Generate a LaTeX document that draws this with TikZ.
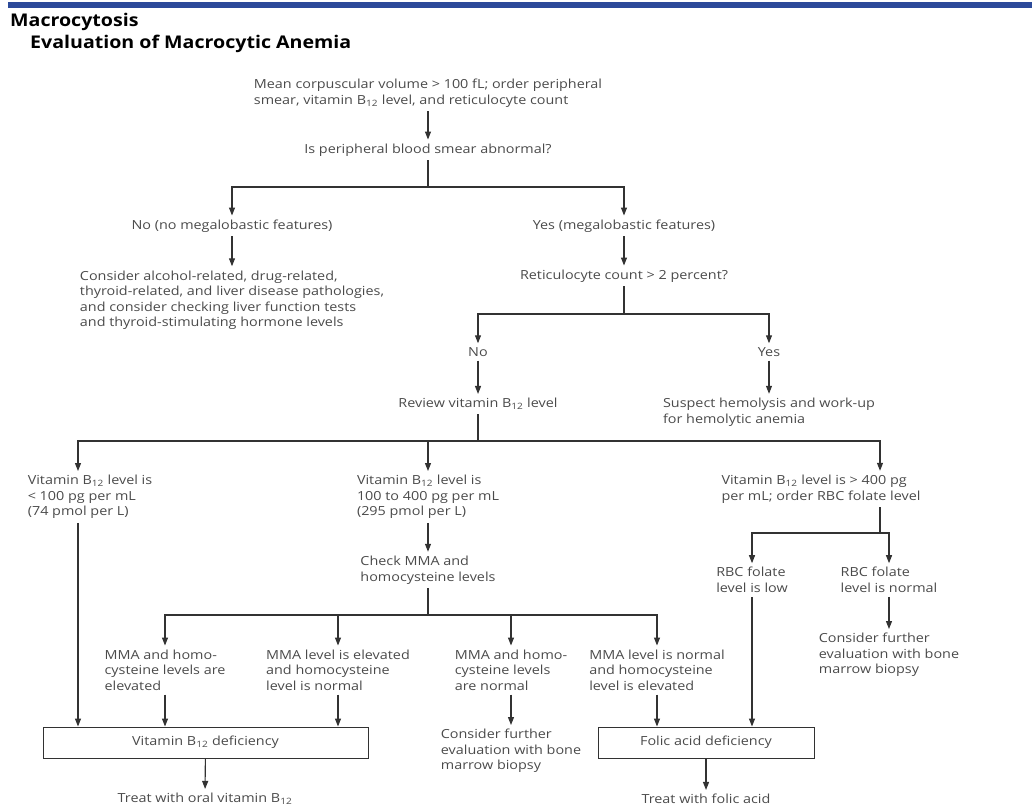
\documentclass[tikz,border=0pt]{standalone}
\usepackage{fontspec}
\setmainfont[FakeStretch=1.15]{Open Sans}
\newfontfamily\titlefont[FakeStretch=1.12]{Open Sans}
\usetikzlibrary{arrows.meta}
\definecolor{barblue}{RGB}{44,74,154}
\definecolor{txtgray}{RGB}{74,74,74}
\definecolor{linegray}{RGB}{50,50,50}
\tikzset{
  txt/.style={font=\fontsize{12.5}{15.5}\selectfont, text=txtgray, inner sep=4pt, align=left},
  box/.style={txt, draw=linegray, line width=1pt, minimum height=31pt, align=center},
  conn/.style={draw=linegray, line width=1.1pt},
  arr/.style={conn, -{Triangle[length=8pt,width=6pt]}},
}

\begin{document}
\begin{tikzpicture}[x=1pt,y=-1pt]
  \useasboundingbox (0,0) rectangle (1032,806);

  % Header
  \fill[barblue] (8,2) rectangle (1032,8);
  \node[anchor=west, inner sep=0pt, font=\titlefont\fontsize{17.5}{22}\selectfont\bfseries] (title) at (10,22) {Macrocytosis};
  \node[anchor=west, inner sep=0pt, font=\titlefont\fontsize{17.5}{22}\selectfont\bfseries] (subtitle) at (30,44) {Evaluation of Macrocytic Anemia};

  % Start and smear
  \node[txt] (mcv) at (428,93) {Mean corpuscular volume > 100 fL; order peripheral\\smear, vitamin B\textsubscript{12} level, and reticulocyte count};
  \node[txt] (smear) at (428,150) {Is peripheral blood smear abnormal?};

  % Smear result
  \node[txt] (nomeg) at (232,226) {No (no megalobastic features)};
  \node[txt] (yesmeg) at (624,226) {Yes (megalobastic features)};
  \node[txt] (alcohol) at (232,300) {Consider alcohol-related, drug-related,\\thyroid-related, and liver disease pathologies,\\and consider checking liver function tests\\and thyroid-stimulating hormone levels};
  \node[txt] (retic) at (624,276) {Reticulocyte count > 2 percent?};

  % Reticulocyte result
  \node[txt] (rno) at (478,352) {No};
  \node[txt] (ryes) at (769,352) {Yes};
  \node[txt] (review) at (478,404) {Review vitamin B\textsubscript{12} level};
  \node[txt] (hemo) at (769,412) {Suspect hemolysis and work-up\\for hemolytic anemia};

  % Vitamin B12 level
  \node[txt] (vlow) at (90,497) {Vitamin B\textsubscript{12} level is\\< 100 pg per mL\\(74 pmol per L)};
  \node[txt] (vmid) at (428,497) {Vitamin B\textsubscript{12} level is\\100 to 400 pg per mL\\(295 pmol per L)};
  \node[txt] (vhigh) at (821,489) {Vitamin B\textsubscript{12} level is > 400 pg\\per mL; order RBC folate level};

  % MMA and homocysteine
  \node[txt] (mmachk) at (428,570) {Check MMA and\\homocysteine levels};
  \node[txt] (mma1) at (165,670) {MMA and homo-\\cysteine levels are\\elevated};
  \node[txt] (mma2) at (338,670) {MMA level is elevated\\and homocysteine\\level is normal};
  \node[txt] (mma3) at (511,670) {MMA and homo-\\cysteine levels\\are normal};
  \node[txt] (mma4) at (657,670) {MMA level is normal\\and homocysteine\\level is elevated};
  \node[txt] (bone1) at (511,751) {Consider further\\evaluation with bone\\marrow biopsy};

  % RBC folate
  \node[txt] (flow) at (752,580) {RBC folate\\level is low};
  \node[txt] (fnorm) at (889,580) {RBC folate\\level is normal};
  \node[txt] (bone2) at (889,655) {Consider further\\evaluation with bone\\marrow biopsy};

  % Diagnoses and treatment
  \node[box, minimum width=325pt] (vdef) at (205.5,742.5) {Vitamin B\textsubscript{12} deficiency};
  \node[box, minimum width=216pt] (fdef) at (706,742.5) {Folic acid deficiency};
  \node[txt] (treat1) at (205,799) {Treat with oral vitamin B\textsubscript{12}};
  \node[txt] (treat2) at (706,799) {Treat with folic acid};

  % Junctions
  \coordinate (j1) at (428,187);
  \coordinate (j2) at (624,314);
  \coordinate (j3) at (478,441);
  \coordinate (j4) at (428,615);
  \coordinate (j5) at (880,533);

  % Edges
  \draw[arr] (mcv) -- (smear);
  \draw[conn] (smear) -- (j1);
  \draw[arr] (j1) -| (nomeg);
  \draw[arr] (j1) -| (yesmeg);
  \draw[arr] (nomeg) -- (alcohol);
  \draw[arr] (yesmeg) -- (retic);
  \draw[conn] (retic) -- (j2);
  \draw[arr] (j2) -| (rno);
  \draw[arr] (j2) -| (ryes);
  \draw[arr] (rno) -- (review);
  \draw[arr] (ryes) -- (hemo);
  \draw[conn] (review) -- (j3);
  \draw[arr] (j3) -| ([xshift=-12pt]vlow.north);
  \draw[arr] (j3) -| (vmid);
  \draw[arr] (j3) -| (vhigh.north -| j5);
  \draw[arr] ([xshift=-12pt]vlow.south) -- ([xshift=-12pt]vlow.south |- vdef.north);
  \draw[arr] (vmid) -- (mmachk);
  \draw[conn] (mmachk) -- (j4);
  \foreach \n in {mma1,mma2,mma3,mma4}
    \draw[arr] (j4) -| (\n);
  \draw[arr] (mma1) -- (mma1 |- vdef.north);
  \draw[arr] (mma2) -- (mma2 |- vdef.north);
  \draw[arr] (mma3) -- (bone1);
  \draw[arr] (mma4) -- (mma4 |- fdef.north);
  \draw[conn] (vhigh.south -| j5) -- (j5);
  \draw[arr] (j5) -| (flow);
  \draw[arr] (j5) -| (fnorm);
  \draw[arr] (flow) -- (flow |- fdef.north);
  \draw[arr] (fnorm) -- (bone2);
  \draw[arr] (vdef) -- (treat1);
  \draw[arr] (fdef) -- (treat2);

\end{tikzpicture}
\end{document}
